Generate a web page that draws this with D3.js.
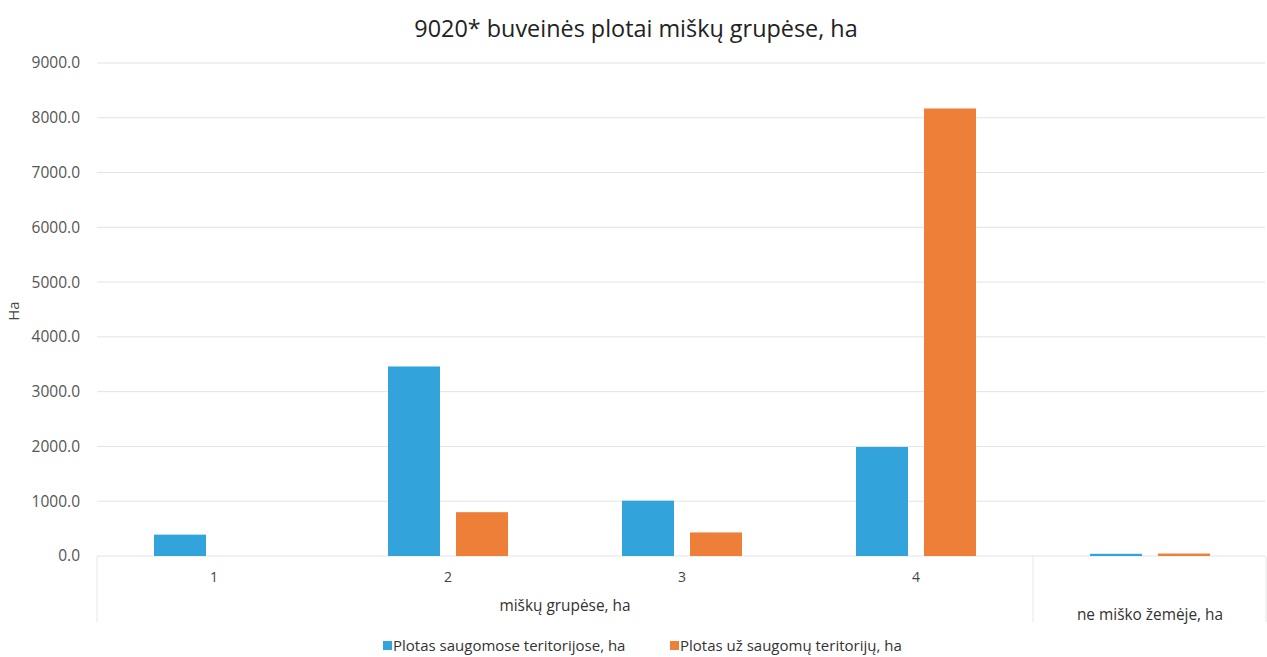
<!DOCTYPE html>
<html><head><meta charset="utf-8">
<script src="https://cdn.jsdelivr.net/npm/d3@7"></script>
<style>body{margin:0;background:#fff}svg{display:block}text{font-family:"Open Sans",sans-serif}</style>
</head><body><svg id="c" width="1267" height="657"></svg>
<script>
const title = "9020* buveinės plotai miškų grupėse, ha";
const categories = ["1", "2", "3", "4", ""];
const groups = [{label: "miškų grupėse, ha", from: 0, to: 3}, {label: "ne miško žemėje, ha", from: 4, to: 4}];
const seriesNames = ["Plotas saugomose teritorijose, ha", "Plotas už saugomų teritorijų, ha"];
const blueValues = [390, 3460, 1010, 1990, 40];
const orangeValues = [0, 800, 430, 8170, 45];
const yTicks = [0, 1000, 2000, 3000, 4000, 5000, 6000, 7000, 8000, 9000];
const colors = ["#33a3dc", "#ee7f38"];

const svg = d3.select("#c");
const plotLeft = 97, plotRight = 1267, plotTop = 63, plotBottom = 556;

const y = d3.scaleLinear().domain([0, 9000]).range([plotBottom, plotTop]);
const x0 = d3.scaleBand().domain(d3.range(categories.length)).range([plotLeft, plotRight]).padding(0);
const x1 = d3.scaleBand().domain([0, 1]).range([57, 177]).paddingInner(16 / 68).paddingOuter(0);

// gridlines
svg.append("g").selectAll("line").data(yTicks).join("line")
  .attr("x1", plotLeft).attr("x2", plotRight - 2)
  .attr("y1", d => y(d)).attr("y2", d => y(d))
  .attr("stroke", "#e3e3e3").attr("stroke-width", 1);

// y axis labels
const yAxis = d3.axisLeft(y).tickValues(yTicks).tickFormat(d3.format(".1f")).tickSize(0).tickPadding(0);
const ya = svg.append("g").attr("transform", `translate(80,0)`).call(yAxis);
ya.select(".domain").remove();
ya.selectAll("text").attr("font-size", 15.5).attr("fill", "#555").attr("font-family", "Open Sans");

// y title
svg.append("text").attr("transform", `translate(19,311) rotate(-90)`)
  .attr("text-anchor", "middle").attr("font-size", 15).attr("fill", "#444").text("Ha");

// title
svg.append("text").attr("x", 636).attr("y", 37).attr("text-anchor", "middle")
  .attr("font-size", 23.4).attr("fill", "#222").text(title);

// bars
const data = categories.map((c, i) => ({i, vals: [blueValues[i], orangeValues[i]]}));
const g = svg.append("g");
g.selectAll("g").data(data).join("g")
  .attr("transform", d => `translate(${x0(d.i)},0)`)
  .selectAll("rect").data(d => d.vals.map((v, k) => ({v, k}))).join("rect")
  .attr("x", d => x1(d.k)).attr("width", x1.bandwidth())
  .attr("y", d => y(Math.max(0, d.v))).attr("height", d => Math.abs(y(d.v) - y(0)))
  .attr("fill", d => colors[d.k]);

// category labels
svg.append("g").selectAll("text").data(categories.map((c, i) => ({c, i}))).join("text")
  .attr("x", d => x0(d.i) + x0.bandwidth() / 2).attr("y", 582)
  .attr("text-anchor", "middle").attr("font-size", 14).attr("fill", "#444").text(d => d.c);

// group separators
const seps = [plotLeft, x0(groups[1].from), plotRight - 1];
svg.append("g").selectAll("line").data(seps).join("line")
  .attr("x1", d => d).attr("x2", d => d).attr("y1", plotBottom).attr("y2", 622)
  .attr("stroke", "#e6e6e6");

// group labels
svg.append("g").selectAll("text").data(groups).join("text")
  .attr("x", d => (x0(d.from) + x0(d.to) + x0.bandwidth()) / 2)
  .attr("y", (d, i) => i === 0 ? 611 : 620)
  .attr("text-anchor", "middle").attr("font-size", 15.4).attr("fill", "#333").text(d => d.label);

// legend
const legX = [383, 670];
const lg = svg.append("g").selectAll("g").data(seriesNames).join("g")
  .attr("transform", (d, i) => `translate(${legX[i]},641)`);
lg.append("rect").attr("width", 9).attr("height", 9).attr("fill", (d, i) => colors[i]);
lg.append("text").attr("x", 10).attr("y", 9.5).attr("font-size", 15).attr("fill", "#333").text(d => d);
</script></body></html>
